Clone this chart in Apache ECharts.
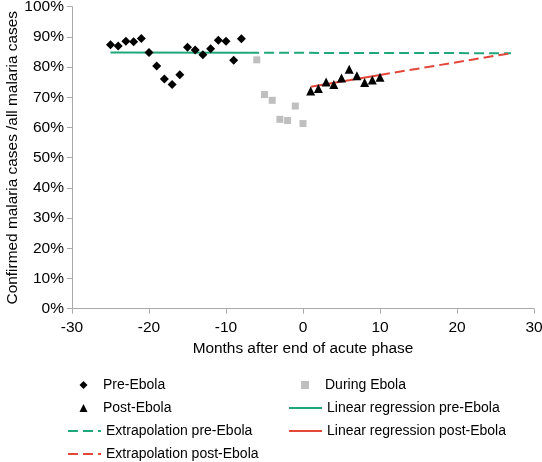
<!DOCTYPE html>
<html><head><meta charset="utf-8">
<script src="https://cdn.jsdelivr.net/npm/echarts@6/dist/echarts.min.js"></script>
<style>html,body{margin:0;padding:0;background:#fff}#c{width:542px;height:462px}</style>
</head><body><div id="c"></div>
<script>
// ---- data ----
const preMonths = [-25,-24,-23,-22,-21,-20,-19,-18,-17,-16,-15,-14,-13,-12,-11,-10,-9,-8];
const preValues = [87.4,87.0,88.6,88.4,89.5,84.8,80.4,76.1,74.2,77.5,86.6,85.7,84.1,86.1,88.9,88.6,82.3,89.4];
const duringMonths = [-6,-5,-4,-3,-2,-1,0];
const duringValues = [82.4,70.9,69.0,62.7,62.3,67.1,61.3];
const postMonths = [1,2,3,4,5,6,7,8,9,10];
const postValues = [72.1,72.9,75.1,74.2,76.4,79.3,77.1,74.9,75.7,76.6];
const preRegMonths = [-25,-7];
const preRegValues = [84.8,84.75];
const preExtMonths = [-7,27];
const preExtValues = [84.75,84.6];
const postRegMonths = [1,10];
const postRegValues = [73.5,77.4];
const postExtMonths = [10,27];
const postExtValues = [77.4,84.6];
const seriesNames = ['Pre-Ebola','During Ebola','Post-Ebola','Linear regression pre-Ebola','Extrapolation pre-Ebola','Linear regression post-Ebola','Extrapolation post-Ebola'];
const xTitle = 'Months after end of acute phase';
const yTitle = 'Confirmed malaria cases /all malaria cases';

// ---- chart ----
const zip = (xs, ys) => xs.map((x, i) => [x, ys[i]]);
const FONT = "'Liberation Sans', Arial, sans-serif";
const GREEN = '#1fa67a', RED = '#e2473a';
const chart = echarts.init(document.getElementById('c'), null, {renderer: 'canvas'});

function lgSym(name, iconCenterX, textX, centerY) {
  const size = 8;
  return {
    data: [name], left: iconCenterX - size / 2, top: centerY - 8, orient: 'horizontal',
    itemWidth: size, itemHeight: size, padding: 0, symbolKeepAspect: true,
    textStyle: {fontFamily: FONT, fontSize: 14, color: '#000',
                padding: [0, 0, 0, textX - (iconCenterX + size / 2) - 5]},
    selectedMode: false
  };
}
function lgLine(name, left, centerY) {
  return {
    data: [name], left: left, top: centerY - 8, orient: 'horizontal',
    itemWidth: 33, itemHeight: 8, padding: 0,
    itemStyle: {opacity: 0},
    textStyle: {fontFamily: FONT, fontSize: 14, color: '#000'},
    selectedMode: false
  };
}

const option = {
  animation: false,
  backgroundColor: '#fff',
  grid: {left: 72, right: 8, top: 6.7, bottom: 153.3, containLabel: false, outerBoundsMode: 'none'},
  xAxis: {
    type: 'value', min: -30, max: 30, interval: 10,
    name: xTitle, nameLocation: 'middle', nameGap: 33, nameMoveOverlap: false,
    nameTextStyle: {fontFamily: FONT, fontSize: 15.4, color: '#000'},
    axisLine: {show: true, onZero: false, lineStyle: {color: '#aaaaaa', width: 1}},
    axisTick: {show: true, length: 5, lineStyle: {color: '#aaaaaa'}},
    axisLabel: {fontFamily: FONT, fontSize: 15.5, color: '#000', margin: 11},
    splitLine: {show: false}
  },
  yAxis: {
    type: 'value', min: 0, max: 100, interval: 10,
    name: yTitle, nameLocation: 'middle', nameGap: 52, nameMoveOverlap: false,
    nameTextStyle: {fontFamily: FONT, fontSize: 15.4, color: '#000'},
    axisLine: {show: true, onZero: false, lineStyle: {color: '#aaaaaa', width: 1}},
    axisTick: {show: true, length: 5, lineStyle: {color: '#aaaaaa'}},
    axisLabel: {fontFamily: FONT, fontSize: 15.5, color: '#000', margin: 8, formatter: '{value}%'},
    splitLine: {show: false}
  },
  legend: [
    lgSym(seriesNames[0], 83.5, 103, 386),
    lgSym(seriesNames[1], 305, 325, 386),
    lgSym(seriesNames[2], 83.5, 103, 409),
    lgLine(seriesNames[3], 288, 409),
    lgLine(seriesNames[4], 67, 432),
    lgLine(seriesNames[5], 288, 432),
    lgLine(seriesNames[6], 67, 455)
  ],
  series: [
    {name: seriesNames[3], type: 'line', data: zip(preRegMonths, preRegValues), symbol: 'none', z: 1,
     lineStyle: {color: GREEN, width: 2}, itemStyle: {color: GREEN}},
    {name: seriesNames[4], type: 'line', data: zip(preExtMonths, preExtValues), symbol: 'none', z: 1,
     lineStyle: {color: GREEN, width: 2, type: [10, 5]}, itemStyle: {color: GREEN}},
    {name: seriesNames[5], type: 'line', data: zip(postRegMonths, postRegValues), symbol: 'none', z: 1,
     lineStyle: {color: RED, width: 2}, itemStyle: {color: RED}},
    {name: seriesNames[6], type: 'line', data: zip(postExtMonths, postExtValues), symbol: 'none', z: 1,
     lineStyle: {color: RED, width: 2, type: [10, 5]}, itemStyle: {color: RED}},
    {name: seriesNames[0], type: 'scatter', data: zip(preMonths, preValues), symbol: 'diamond', symbolSize: 9, z: 3,
     itemStyle: {color: '#000', opacity: 1}},
    {name: seriesNames[1], type: 'scatter', data: zip(duringMonths, duringValues), symbol: 'rect', symbolSize: 7, z: 3,
     itemStyle: {color: '#bfbfbf', opacity: 1}},
    {name: seriesNames[2], type: 'scatter', data: zip(postMonths, postValues), symbol: 'triangle', symbolSize: 9, z: 3,
     itemStyle: {color: '#000', opacity: 1}}
  ]
};
chart.setOption(option);
</script></body></html>
